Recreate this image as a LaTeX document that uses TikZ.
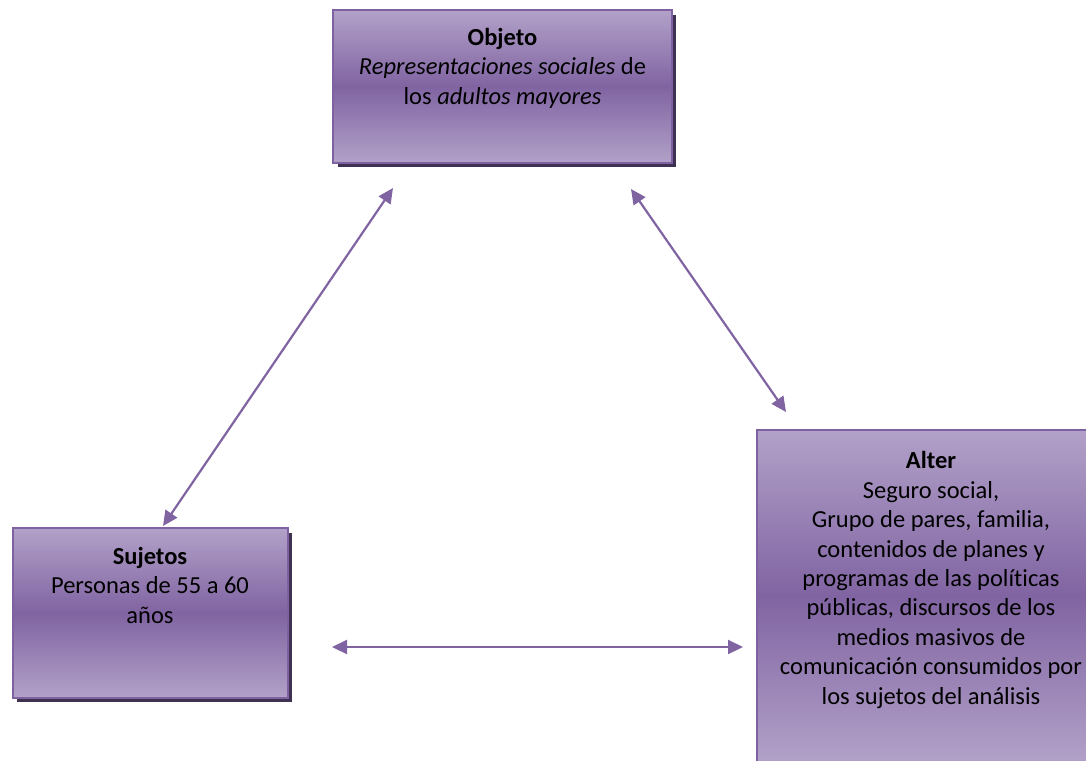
\documentclass[tikz,border=0pt]{standalone}
\usepackage{fontspec}
\setmainfont[Ligatures={NoCommon}]{Carlito}
\usetikzlibrary{arrows.meta}
\definecolor{pLight}{HTML}{B2A1C8}
\definecolor{pDark}{HTML}{8064A2}
\definecolor{pBorder}{HTML}{7E61A0}
\definecolor{pShadow}{HTML}{3F3151}
\definecolor{pArrow}{HTML}{8064A2}
\tikzset{
  box/.style={draw=pBorder, line width=2pt, top color=pLight, bottom color=pLight, middle color=pDark, inner sep=0pt},
  shad/.style={fill=pShadow},
  txt/.style={anchor=north, align=center, font=\fontsize{24.5}{29.4}\selectfont, inner sep=0pt},
  arr/.style={draw=pArrow, line width=2.2pt, {Triangle[length=15pt,width=14pt]}-{Triangle[length=15pt,width=14pt]}}
}
\begin{document}
\begin{tikzpicture}[x=1pt,y=-1pt]
\useasboundingbox (0,0) rectangle (1086,760);
% shadows
\fill[shad] (338,15) rectangle (676,167);
\fill[shad] (17,533) rectangle (292,702);
% boxes
\node[box, minimum width=339pt, minimum height=153pt] (obj) at (502.5,86.5) {};
\node[box, minimum width=275pt, minimum height=170pt] (suj) at (150,613) {};
\node[box, minimum width=340pt, minimum height=332pt] (alt) at (927,596) {};
% texts
\node[txt] (objt) at ([yshift=-19pt]obj.north) {\textbf{Objeto}\\\textit{Representaciones sociales} de\\los \textit{adultos mayores}};
\node[txt] (sujt) at ([yshift=-20pt]suj.north) {\textbf{Sujetos}\\Personas de 55 a 60\\años};
\node[txt] (altt) at ([yshift=-22.5pt]alt.north west) [xshift=175pt] {\textbf{Alter}\\Seguro social,\\Grupo de pares, familia,\\contenidos de planes y\\programas de las políticas\\públicas, discursos de los\\medios masivos de\\comunicación consumidos por\\los sujetos del análisis};
% connectors
\coordinate (a1) at (393,188);
\coordinate (a2) at (163,526);
\coordinate (b1) at (631,189);
\coordinate (b2) at (786,412);
\coordinate (c1) at (332,647);
\coordinate (c2) at (743,647);
\draw[arr] (a1) -- (a2);
\draw[arr] (b1) -- (b2);
\draw[arr] (c1) -- (c2);
\end{tikzpicture}
\end{document}
